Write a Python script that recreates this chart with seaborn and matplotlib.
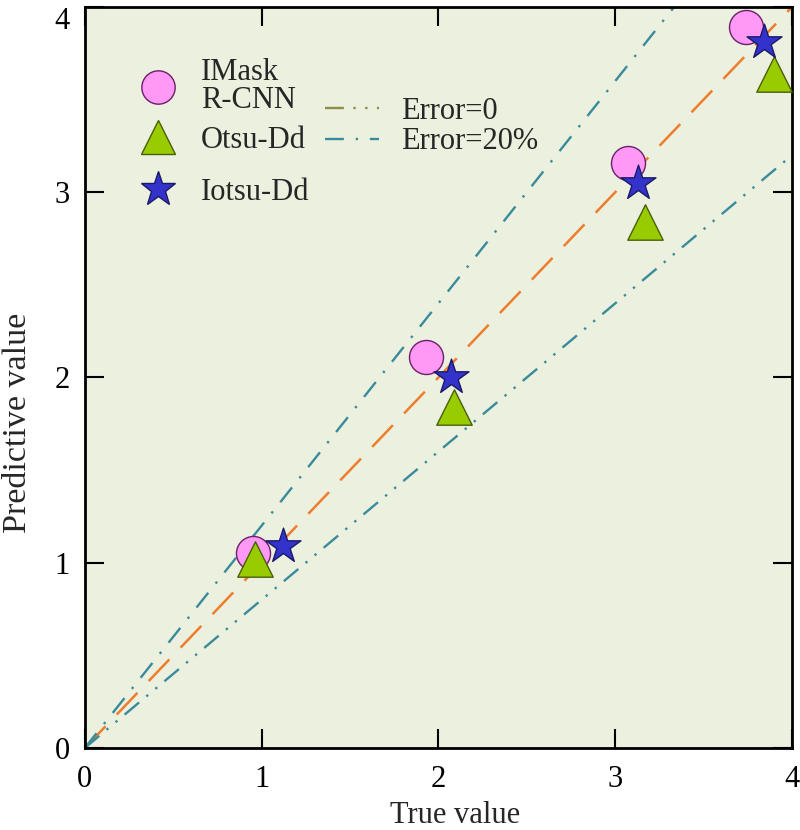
import numpy as np
import pandas as pd
import matplotlib
matplotlib.use("Agg")
import matplotlib.pyplot as plt
from matplotlib.lines import Line2D
import seaborn as sns

sns.set_theme(style="ticks")
plt.rcParams['font.family'] = ['Liberation Serif', 'DejaVu Serif']

# ---- data ----
imask_true = [0.95, 1.93, 3.07, 3.74]
imask_pred = [1.05, 2.11, 3.16, 3.89]

otsu_true = [0.96, 2.09, 3.17, 3.90]
otsu_pred = [1.02, 1.84, 2.84, 3.64]

iotsu_true = [1.12, 2.07, 3.13, 3.84]
iotsu_pred = [1.09, 2.00, 3.05, 3.81]

ref_x = [0.0, 4.0]
error_ratios = [1.0, 1.2, 0.8]

tick_vals = [0, 1, 2, 3, 4]

# ---- style ----
BG = '#EBF1DE'
ORANGE = '#EE7D2E'
TEAL = '#3A8A9C'
OLIVE = '#8E8E4C'
PINK, PINK_E = '#FF99F5', '#6B1F6B'
GREEN, GREEN_E = '#99CC00', '#4A5E0A'
BLUE, BLUE_E = '#3333CC', '#1A1A66'

fig = plt.figure(figsize=(8, 8.3), dpi=100)
ax = fig.add_axes([0.106, 0.0988, 0.884, 0.8928])
ax.set_facecolor(BG)

# reference lines: Error=0 and +/-20 %
lines_df = pd.DataFrame({'x': ref_x})
sns.lineplot(x=lines_df['x'], y=lines_df['x'] * error_ratios[0], ax=ax,
             color=ORANGE, lw=1.8, zorder=2).lines[-1].set_dashes((12, 6.5))
sns.lineplot(x=lines_df['x'], y=lines_df['x'] * error_ratios[1], ax=ax,
             color=TEAL, lw=1.7, zorder=2).lines[-1].set_dashes((8, 5, 1, 5))
sns.lineplot(x=lines_df['x'], y=lines_df['x'] * error_ratios[2], ax=ax,
             color=TEAL, lw=1.7, zorder=2).lines[-1].set_dashes((8, 4, 1, 4, 1, 4))

# markers
sns.scatterplot(x=imask_true, y=imask_pred, ax=ax, marker='o', s=600,
                color=PINK, edgecolor=PINK_E, linewidth=1.0, zorder=3)
sns.scatterplot(x=otsu_true, y=otsu_pred, ax=ax, marker='^', s=650,
                color=GREEN, edgecolor=GREEN_E, linewidth=1.0, zorder=4)
sns.scatterplot(x=iotsu_true, y=iotsu_pred, ax=ax, marker='*', s=700,
                color=BLUE, edgecolor=BLUE_E, linewidth=1.0, zorder=5)

ax.set_xlim(0, 4)
ax.set_ylim(0, 4)
ax.set_xticks(tick_vals)
ax.set_yticks(tick_vals)
ax.tick_params(direction='in', length=14, width=1.5, labelsize=22,
               top=True, right=True, colors='black')
ax.tick_params(axis='x', pad=12)
ax.tick_params(axis='y', pad=11)
ax.get_yticklabels()[-1].set_va('top')
for sp in ax.spines.values():
    sp.set_linewidth(2)
    sp.set_color('black')

ax.set_xlabel('True value', fontsize=22)
ax.set_ylabel('Predictive value', fontsize=24.5)
ax.xaxis.set_label_coords(0.523, -0.071)
ax.yaxis.set_label_coords(-0.073, 0.439)

# legends
leg_kw = dict(loc='upper left', frameon=False, fontsize=22,
              handlelength=1.2, handletextpad=0.8, borderpad=0.4)
leg_a = ax.legend([Line2D([], [], marker='o', ls='none', ms=24, mfc=PINK, mec=PINK_E, mew=1.0)],
                  ['IMask\nR-CNN'], bbox_to_anchor=(0.039, 0.968), **leg_kw)
for t in leg_a.get_texts():
    t.set_linespacing(0.95)
ax.add_artist(leg_a)

leg_b = ax.legend([Line2D([], [], marker='^', ls='none', ms=25, mfc=GREEN, mec=GREEN_E, mew=1.0),
                   Line2D([], [], marker='*', ls='none', ms=26, mfc=BLUE, mec=BLUE_E, mew=1.0)],
                  ['Otsu-Dd', 'Iotsu-Dd'], bbox_to_anchor=(0.039, 0.877),
                  labelspacing=0.77, **leg_kw)
ax.add_artist(leg_b)

line_handles = [
    Line2D([], [], color=OLIVE, lw=1.7, dashes=(8, 4, 1, 4, 1, 4, 1, 4)),
    Line2D([], [], color=TEAL, lw=1.7, dashes=(8, 5, 1, 5)),
]
ax.legend(line_handles, ['Error=0', 'Error=20%'],
          loc='upper left', bbox_to_anchor=(0.301, 0.916), frameon=False,
          fontsize=22, handlelength=1.75, handletextpad=0.75,
          labelspacing=0.05, borderpad=0.4)

fig.savefig('out.png', dpi=100)
